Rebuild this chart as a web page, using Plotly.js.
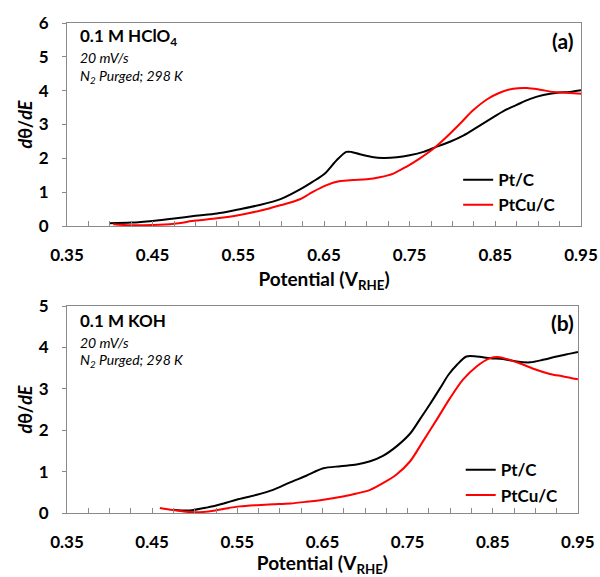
<!DOCTYPE html>
<html>
<head>
<meta charset="utf-8">
<script src="https://cdn.plot.ly/plotly-3.0.1.min.js"></script>
<style>html,body{margin:0;padding:0;background:#fff;}#chart{width:600px;height:577px;}</style>
</head>
<body>
<div id="chart"></div>
<script>
// ---- Data ----
const xTicks = [0.35, 0.45, 0.55, 0.65, 0.75, 0.85, 0.95];
const seriesNames = ["Pt/C", "PtCu/C"];

// Panel (a): 0.1 M HClO4
const potA_Pt = [0.40,0.425,0.45,0.475,0.50,0.525,0.55,0.575,0.60,0.622,0.637,0.651,0.665,0.676,0.682,0.692,0.706,0.719,0.735,0.750,0.766,0.781,0.797,0.813,0.828,0.844,0.859,0.875,0.890,0.906,0.922,0.937,0.95];
const valA_Pt = [0.08,0.10,0.15,0.22,0.30,0.37,0.49,0.62,0.80,1.08,1.31,1.55,1.95,2.19,2.19,2.12,2.04,2.01,2.03,2.09,2.19,2.34,2.49,2.68,2.91,3.16,3.39,3.58,3.75,3.87,3.94,3.96,4.01];
const potA_PtCu = [0.404,0.425,0.45,0.475,0.50,0.525,0.55,0.575,0.60,0.622,0.637,0.653,0.669,0.684,0.700,0.715,0.731,0.746,0.762,0.778,0.793,0.809,0.824,0.840,0.855,0.871,0.887,0.902,0.918,0.933,0.95];
const valA_PtCu = [0.05,0.02,0.03,0.07,0.16,0.23,0.32,0.45,0.62,0.79,1.01,1.21,1.33,1.36,1.38,1.44,1.55,1.75,2.00,2.29,2.63,3.03,3.42,3.74,3.94,4.06,4.08,4.03,3.96,3.94,3.91];

// Panel (b): 0.1 M KOH
const potB_Pt = [0.475,0.494,0.514,0.534,0.549,0.573,0.592,0.612,0.631,0.651,0.671,0.690,0.706,0.721,0.737,0.753,0.764,0.776,0.788,0.798,0.808,0.819,0.831,0.847,0.862,0.878,0.894,0.909,0.925,0.941,0.95];
const valB_Pt = [0.08,0.06,0.13,0.23,0.32,0.44,0.56,0.74,0.90,1.08,1.13,1.17,1.25,1.38,1.61,1.92,2.25,2.62,3.01,3.34,3.58,3.78,3.78,3.74,3.72,3.66,3.64,3.70,3.78,3.85,3.89];
const potB_PtCu = [0.459,0.474,0.49,0.506,0.524,0.537,0.553,0.573,0.592,0.612,0.631,0.651,0.674,0.690,0.706,0.721,0.737,0.753,0.768,0.784,0.800,0.815,0.831,0.847,0.856,0.870,0.886,0.901,0.917,0.933,0.95];
const valB_PtCu = [0.12,0.07,0.03,0.02,0.06,0.11,0.16,0.19,0.21,0.23,0.27,0.32,0.40,0.47,0.56,0.72,0.93,1.25,1.73,2.25,2.78,3.22,3.54,3.74,3.77,3.70,3.58,3.46,3.36,3.30,3.23];

// ---- Styling ----
const FONT = "Lato, 'Open Sans', sans-serif";
const FRAME = "#8a8a8a";
const colors = ["#000000", "#ff0000"];

function line(x, y, name, color, xa, ya, legend, show) {
  return {x: x, y: y, name: name, type: "scatter", mode: "lines",
    line: {color: color, width: 2, shape: "spline", smoothing: 0.8},
    xaxis: xa, yaxis: ya, legend: legend, showlegend: show};
}

const data = [
  line(potA_Pt, valA_Pt, seriesNames[0], colors[0], "x", "y", "legend", true),
  line(potA_PtCu, valA_PtCu, seriesNames[1], colors[1], "x", "y", "legend", true),
  line(potB_Pt, valB_Pt, seriesNames[0], colors[0], "x2", "y2", "legend2", true),
  line(potB_PtCu, valB_PtCu, seriesNames[1], colors[1], "x2", "y2", "legend2", true)
];

function xAxis(domain, anchor) {
  return {domain: domain, anchor: anchor, range: [0.35, 0.95],
    tickmode: "array", tickvals: xTicks, ticktext: xTicks.map(v => v.toFixed(2)),
    ticks: "inside", ticklen: 5, tickcolor: FRAME, tickwidth: 1,
    minor: {ticks: "inside", tick0: 0.35, dtick: 0.025, ticklen: 5, tickcolor: FRAME, showgrid: false},
    showline: true, mirror: true, linecolor: FRAME, linewidth: 1,
    showgrid: false, zeroline: false, ticklabelstandoff: 14,
    tickfont: {family: FONT, size: 17, weight: "bold", color: "#000"},
    title: {text: "Potential (V<sub>RHE</sub>)", standoff: 8,
      font: {family: FONT, size: 19, weight: "bold", color: "#000"}}};
}
function yAxis(domain, anchor, maxV) {
  return {domain: domain, anchor: anchor, range: [0, maxV], dtick: 1, tick0: 0,
    ticks: "outside", ticklen: 4, tickcolor: FRAME, tickwidth: 1,
    showline: true, mirror: true, linecolor: FRAME, linewidth: 1,
    showgrid: false, zeroline: false, ticklabelstandoff: 10,
    tickfont: {family: FONT, size: 17, weight: "bold", color: "#000"},
    title: {text: "<i>d</i>θ/<i>dE</i>", standoff: 1,
      font: {family: FONT, size: 18, weight: "bold", color: "#000"}}};
}

function panelText(xa, ya, title, label, yT, yS1, yS2, yL, xL) {
  const base = {xref: xa + " domain", yref: ya + " domain", showarrow: false, xanchor: "left", yanchor: "middle"};
  return [
    Object.assign({}, base, {x: 0.022, y: yT, text: title, font: {family: FONT, size: 17, weight: "bold", color: "#000"}}),
    Object.assign({}, base, {x: 0.022, y: yS1, text: "<i>20 mV/s</i>", font: {family: FONT, size: 14, color: "#000"}}),
    Object.assign({}, base, {x: 0.022, y: yS2, text: "<i>N<sub>2</sub> Purged; 298 K</i>", font: {family: FONT, size: 14, color: "#000"}}),
    Object.assign({}, base, {x: xL, y: yL, xanchor: "right", text: label, font: {family: FONT, size: 21, weight: "bold", color: "#000"}})
  ];
}

const legendStyle = {bgcolor: "rgba(0,0,0,0)", borderwidth: 0, itemwidth: 30, tracegroupgap: 0,
  font: {family: FONT, size: 17, weight: "bold", color: "#000"}, xanchor: "left", yanchor: "top"};

const layout = {
  width: 600, height: 577,
  margin: {l: 67, r: 19, t: 23, b: 64},
  paper_bgcolor: "#fff", plot_bgcolor: "#fff",
  xaxis: xAxis([0, 1], "y"),
  yaxis: yAxis([0.5857, 1], "x", 6),
  xaxis2: xAxis([0, 0.994], "y2"),
  yaxis2: yAxis([0, 0.4224], "x2", 5),
  legend: Object.assign({}, legendStyle, {x: 0.761, y: 0.716}),
  legend2: Object.assign({}, legendStyle, {x: 0.766, y: 0.124}),
  annotations: [].concat(
    panelText("x", "y", "<b>0.1 M HClO<sub>4</sub></b>", "(a)", 0.931, 0.828, 0.734, 0.916, 0.988),
    panelText("x2", "y2", "<b>0.1 M KOH</b>", "(b)", 0.932, 0.826, 0.739, 0.918, 0.996)
  )
};

Plotly.newPlot("chart", data, layout, {staticPlot: true, displayModeBar: false});
</script>
</body>
</html>
